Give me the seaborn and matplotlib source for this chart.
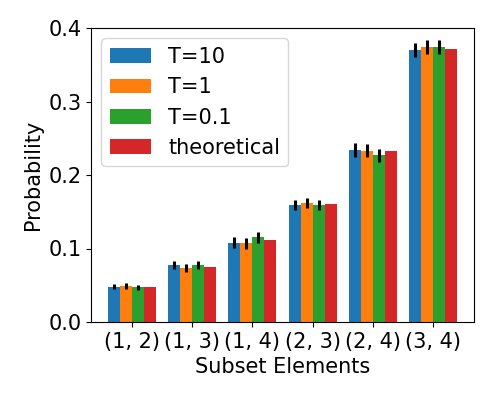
import numpy as np
import pandas as pd
import matplotlib
matplotlib.use("Agg")
import matplotlib.pyplot as plt
import seaborn as sns

subsets = ["(1, 2)", "(1, 3)", "(1, 4)", "(2, 3)", "(2, 4)", "(3, 4)"]
series = ["T=10", "T=1", "T=0.1", "theoretical"]

prob_t10 = [0.048, 0.078, 0.108, 0.159, 0.234, 0.370]
prob_t1 = [0.049, 0.073, 0.107, 0.162, 0.233, 0.374]
prob_t01 = [0.047, 0.077, 0.115, 0.159, 0.227, 0.374]
prob_theory = [0.047, 0.075, 0.111, 0.160, 0.233, 0.371]

err_t10 = [0.0036, 0.0055, 0.007, 0.007, 0.009, 0.009]
err_t1 = [0.0036, 0.0055, 0.007, 0.007, 0.009, 0.0095]
err_t01 = [0.0036, 0.0055, 0.007, 0.007, 0.009, 0.0095]

df = pd.DataFrame({
    "subset": subsets * 4,
    "series": np.repeat(series, len(subsets)),
    "prob": prob_t10 + prob_t1 + prob_t01 + prob_theory,
})
errs = {"T=10": err_t10, "T=1": err_t1, "T=0.1": err_t01}

plt.rcParams["font.size"] = 15
fig, ax = plt.subplots(figsize=(5, 4), dpi=100)
palette = ["#1f77b4", "#ff7f0e", "#2ca02c", "#d62728"]
sns.barplot(data=df, x="subset", y="prob", hue="series", palette=palette,
            errorbar=None, width=0.8, saturation=1, ax=ax)

# error bars on the sampled series
for cont, name in zip(ax.containers, series):
    if name not in errs:
        continue
    xs = [p.get_x() + p.get_width() / 2 for p in cont]
    ys = [p.get_height() for p in cont]
    ax.errorbar(xs, ys, yerr=errs[name], fmt="none", ecolor="black", elinewidth=2.2)

ax.set_ylim(0, 0.4)
ax.set_yticks([0.0, 0.1, 0.2, 0.3, 0.4])
ax.set_xlabel("Subset Elements", fontsize=15)
ax.set_ylabel("Probability", fontsize=15)
ax.tick_params(labelsize=15)
ax.legend(title=None, loc="upper left", fontsize=15)

fig.subplots_adjust(left=0.182, right=0.948, top=0.93, bottom=0.195)
fig.savefig("out.png", dpi=100)
